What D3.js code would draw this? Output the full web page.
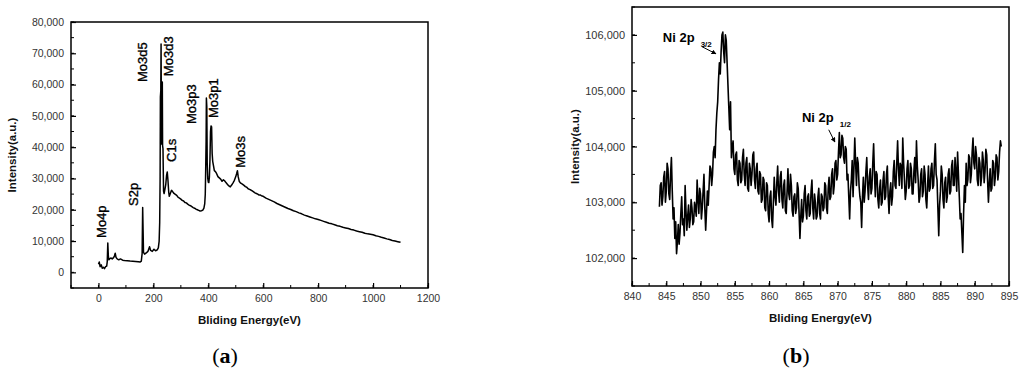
<!DOCTYPE html>
<html>
<head>
<meta charset="utf-8">
<script src="https://cdn.jsdelivr.net/npm/d3@7/dist/d3.min.js"></script>
<style>
  html, body { margin: 0; padding: 0; background: #fff; }
  svg { display: block; }
</style>
</head>
<body>
<svg id="chart" width="1024" height="375"></svg>
<script>
// ---------- Panel (a): XPS survey ----------
const surveyEnergy = [
  0, 3, 6, 10, 14, 18, 22, 26, 30, 32, 34, 36, 38, 42, 46, 50, 55, 58, 61, 64, 68, 74, 80, 88, 95,
  105, 115, 125, 135, 145, 152, 156, 159, 161, 162.5, 164, 168, 174, 180, 186, 190, 196, 202, 208, 214, 218,
  221, 223, 224.5, 225.5, 227, 228, 229.5, 231, 232.5, 233.5, 235, 237, 239, 242, 245, 248, 250.5, 253, 256,
  258, 262, 266, 270, 275, 280, 285, 290, 295, 300, 305, 310, 315, 320, 325, 330, 335, 340, 345, 350, 355,
  360, 365, 370, 375, 380, 384, 387, 389, 390.5, 392, 393, 394.5, 396, 398, 400, 402, 404, 406, 408, 410,
  412, 414, 416, 419, 422, 426, 430, 435, 440, 445, 450, 455, 460, 465, 470, 475, 480, 485, 490, 495, 500,
  503, 506, 509, 513, 518, 524, 530, 535, 540, 545, 550, 555, 560, 565, 570, 575, 580, 585, 590, 595, 600,
  610, 620, 630, 640, 650, 660, 670, 680, 690, 700, 710, 720, 730, 740, 750, 760, 770, 780, 790, 800, 810,
  820, 830, 840, 850, 860, 870, 880, 890, 900, 910, 920, 930, 940, 950, 960, 970, 980, 990, 1000, 1010,
  1020, 1030, 1040, 1050, 1060, 1070, 1080, 1090, 1100
];
const surveyCounts = [
  2600, 3300, 1800, 2400, 1300, 1600, 1200, 1800, 2000, 3400, 9400, 5200, 4000, 4400, 4600, 4300, 4700, 5200, 6100, 4800, 4300, 4000, 4300, 3900, 3800,
  3700, 3600, 3550, 3500, 3400, 3300, 3600, 6000, 20700, 13500, 6400, 5800, 6200, 6700, 8200, 7000, 6700, 7400, 6900, 7200, 7800,
  10000, 16000, 30000, 56000, 58000, 73000, 41000, 48000, 60800, 40500, 39500, 26000, 25200, 26500, 28000, 31000, 32100, 29500, 25500,
  24300, 25300, 26200, 25800, 25200, 24900, 24600, 24000, 23700, 23400, 23000, 22800, 22300, 22200, 21800, 21500, 21300, 21000, 20700, 20500, 20200,
  20000, 19800, 19600, 19700, 19900, 20500, 22000, 25000, 33000, 42000, 55700, 53000, 35000, 30000, 28800, 28700, 30500, 36000, 45000, 46800,
  46500, 38000, 35500, 34000, 32500, 32200, 31600, 30600, 30200, 29800, 29100, 29600, 29200, 28600, 28100, 27600, 27300, 27900, 28600, 29400, 30600,
  31500, 32500, 30500, 29000, 28500, 28200, 27800, 27400, 27200, 26700, 26500, 26300, 26000, 25700, 25400, 25200, 25000, 24700, 24700, 24400, 24300,
  23700, 23300, 22900, 22500, 22000, 21600, 21200, 20800, 20400, 20100, 19700, 19400, 19000, 18700, 18300, 18000, 17700, 17400, 17100, 16900, 16600,
  16300, 16000, 15700, 15500, 15200, 14900, 14700, 14400, 14200, 14000, 13700, 13500, 13200, 13000, 12800, 12500, 12300, 12200, 12000, 11700,
  11500, 11200, 11000, 10700, 10500, 10200, 10000, 9800, 9600
];
const surveyXTicks = [0, 200, 400, 600, 800, 1000, 1200];
const surveyYTicks = [0, 10000, 20000, 30000, 40000, 50000, 60000, 70000, 80000];
const surveyPeakNames = ["Mo4p", "S2p", "Mo3d5", "Mo3d3", "C1s", "Mo3p3", "Mo3p1", "Mo3s"];
const surveyPeakEnergy = [27, 144, 177, 271, 282, 355, 435, 533];
const surveyPeakCounts = [11000, 21200, 60800, 62700, 35300, 47400, 49300, 33400];

// ---------- Panel (b): Ni 2p ----------
const niEnergy = [
  844, 844.125, 844.25, 844.375, 844.5, 844.625, 844.75, 844.875, 845, 845.125, 845.25, 845.375, 845.5, 845.625, 845.75, 845.875,
  846, 846.125, 846.25, 846.375, 846.5, 846.625, 846.75, 846.875, 847, 847.125, 847.25, 847.375, 847.5, 847.625, 847.75, 847.875,
  848, 848.125, 848.25, 848.375, 848.5, 848.625, 848.75, 848.875, 849, 849.125, 849.25, 849.375, 849.5, 849.625, 849.75, 849.875,
  850, 850.125, 850.25, 850.375, 850.5, 850.625, 850.75, 850.875, 851, 851.125, 851.25, 851.375, 851.5, 851.625, 851.75, 851.875,
  852, 852.125, 852.25, 852.375, 852.5, 852.625, 852.75, 852.875, 853, 853.125, 853.25, 853.375, 853.5, 853.625, 853.75, 853.875,
  854, 854.125, 854.25, 854.375, 854.5, 854.625, 854.75, 854.875, 855, 855.125, 855.25, 855.375, 855.5, 855.625, 855.75, 855.875,
  856, 856.125, 856.25, 856.375, 856.5, 856.625, 856.75, 856.875, 857, 857.125, 857.25, 857.375, 857.5, 857.625, 857.75, 857.875,
  858, 858.125, 858.25, 858.375, 858.5, 858.625, 858.75, 858.875, 859, 859.125, 859.25, 859.375, 859.5, 859.625, 859.75, 859.875,
  860, 860.125, 860.25, 860.375, 860.5, 860.625, 860.75, 860.875, 861, 861.125, 861.25, 861.375, 861.5, 861.625, 861.75, 861.875,
  862, 862.125, 862.25, 862.375, 862.5, 862.625, 862.75, 862.875, 863, 863.125, 863.25, 863.375, 863.5, 863.625, 863.75, 863.875,
  864, 864.125, 864.25, 864.375, 864.5, 864.625, 864.75, 864.875, 865, 865.125, 865.25, 865.375, 865.5, 865.625, 865.75, 865.875,
  866, 866.125, 866.25, 866.375, 866.5, 866.625, 866.75, 866.875, 867, 867.125, 867.25, 867.375, 867.5, 867.625, 867.75, 867.875,
  868, 868.125, 868.25, 868.375, 868.5, 868.625, 868.75, 868.875, 869, 869.125, 869.25, 869.375, 869.5, 869.625, 869.75, 869.875,
  870, 870.125, 870.25, 870.375, 870.5, 870.625, 870.75, 870.875, 871, 871.125, 871.25, 871.375, 871.5, 871.625, 871.75, 871.875,
  872, 872.125, 872.25, 872.375, 872.5, 872.625, 872.75, 872.875, 873, 873.125, 873.25, 873.375, 873.5, 873.625, 873.75, 873.875,
  874, 874.125, 874.25, 874.375, 874.5, 874.625, 874.75, 874.875, 875, 875.125, 875.25, 875.375, 875.5, 875.625, 875.75, 875.875,
  876, 876.125, 876.25, 876.375, 876.5, 876.625, 876.75, 876.875, 877, 877.125, 877.25, 877.375, 877.5, 877.625, 877.75, 877.875,
  878, 878.125, 878.25, 878.375, 878.5, 878.625, 878.75, 878.875, 879, 879.125, 879.25, 879.375, 879.5, 879.625, 879.75, 879.875,
  880, 880.125, 880.25, 880.375, 880.5, 880.625, 880.75, 880.875, 881, 881.125, 881.25, 881.375, 881.5, 881.625, 881.75, 881.875,
  882, 882.125, 882.25, 882.375, 882.5, 882.625, 882.75, 882.875, 883, 883.125, 883.25, 883.375, 883.5, 883.625, 883.75, 883.875,
  884, 884.125, 884.25, 884.375, 884.5, 884.625, 884.75, 884.875, 885, 885.125, 885.25, 885.375, 885.5, 885.625, 885.75, 885.875,
  886, 886.125, 886.25, 886.375, 886.5, 886.625, 886.75, 886.875, 887, 887.125, 887.25, 887.375, 887.5, 887.625, 887.75, 887.875,
  888, 888.125, 888.25, 888.375, 888.5, 888.625, 888.75, 888.875, 889, 889.125, 889.25, 889.375, 889.5, 889.625, 889.75, 889.875,
  890, 890.125, 890.25, 890.375, 890.5, 890.625, 890.75, 890.875, 891, 891.125, 891.25, 891.375, 891.5, 891.625, 891.75, 891.875,
  892, 892.125, 892.25, 892.375, 892.5, 892.625, 892.75, 892.875, 893, 893.125, 893.25, 893.375, 893.5, 893.625, 893.75, 893.875
];
const niCounts = [
  102920, 103300, 103350, 102950, 103100, 103450, 103550, 103000, 103200, 103700, 103600, 103150, 103050, 103500, 103800, 103200,
  102700, 102900, 102350, 102650, 102080, 102300, 102600, 102250, 102450, 102800, 103100, 102600, 102700, 102400, 103300, 102850,
  102500, 102750, 102950, 102550, 102700, 103050, 102900, 102600, 102650, 103000, 102900, 102750, 103400, 103050, 102800, 103250,
  103150, 102700, 102900, 103200, 103500, 102900, 102500, 102850, 103200, 102950, 103300, 103650, 103600, 103300, 103500, 103900,
  104000, 103800, 104300, 104600, 104800, 105200, 105500, 105300, 105700, 106000, 106050, 105700, 105500, 106000, 105900, 105500,
  105100, 104700, 104300, 104800, 103800, 104000, 104100, 103600, 103500, 103850, 103900, 103400, 103300, 103750, 103700, 103350,
  103400, 103800, 103950, 103500, 103300, 103700, 103800, 103250, 103200, 103700, 103600, 103300, 103500, 103850, 103900, 103400,
  103250, 103600, 103700, 103200, 103150, 103550, 103500, 103000, 103050, 103450, 103400, 102900, 102850, 103350, 103300, 102800,
  102650, 103100, 103200, 102700, 102550, 103000, 103450, 103100, 102950, 103350, 103650, 103200, 103000, 103450, 103550, 103050,
  102900, 103300, 103400, 102850, 102800, 103200, 103600, 103150, 103050, 103500, 103300, 102850, 102750, 103100, 103150, 102800,
  102900, 103350, 103250, 102800, 102350, 102750, 103050, 102650, 102750, 103150, 103300, 102850, 102700, 103100, 103150, 102750,
  102800, 103200, 103400, 102900, 102700, 103150, 103000, 102700, 102750, 103100, 103250, 102800, 102700, 103150, 103100, 102850,
  102900, 103350, 103300, 102900, 102800, 103250, 103450, 103050, 103100, 103500, 103600, 103150, 103300, 103700, 103750, 103400,
  103500, 103900, 104250, 103800, 103850, 104200, 104150, 103800, 103700, 104000, 103950, 103400, 103500, 103100, 102700, 103200,
  103400, 103750, 103100, 103600, 104150, 103700, 103300, 103800, 103700, 103300, 103100, 103000, 102550, 103100, 103450, 103000,
  103200, 103550, 103800, 103300, 103050, 103450, 103600, 103150, 103250, 103700, 104050, 103500, 103100, 103550, 103500, 103050,
  102900, 103250, 103400, 102950, 103000, 103400, 103550, 103050, 103100, 103500, 103650, 103100, 102800, 103200, 103350, 102950,
  103100, 103550, 103750, 103300, 103250, 103700, 104100, 103600, 103300, 103700, 103650, 103250, 104150, 103700, 103400, 103050,
  103200, 103600, 103750, 103250, 103300, 103700, 103600, 103150, 103150, 103550, 103800, 103350, 104100, 103650, 103400, 103000,
  103100, 103500, 103600, 103100, 103200, 103650, 103500, 103050, 102900, 103300, 103650, 103200, 103250, 103600, 103700, 103250,
  103300, 103750, 104050, 103500, 103400, 102900, 102400, 102950, 103200, 103650, 103500, 103050, 102900, 103350, 103450, 103000,
  103100, 103500, 103600, 103150, 103200, 103650, 103750, 103300, 103300, 103800, 103550, 103200, 103900, 103500, 103100, 102700,
  102800, 102450, 102100, 102800, 103300, 103000, 103700, 103300, 103400, 103850, 103800, 103350, 103500, 103900, 104150, 103700,
  103600, 104000, 103850, 103400, 103300, 103800, 103700, 103300, 103450, 103900, 103750, 103350, 103550, 103950, 103850, 103400,
  103000, 103350, 103600, 103200, 103250, 103750, 103700, 103300, 103450, 103850, 103800, 103400, 103550, 103900, 104100, 104000
];
const niXTicks = [840, 845, 850, 855, 860, 865, 870, 875, 880, 885, 890, 895];
const niYTicks = [102000, 103000, 104000, 105000, 106000];
const niPeakSub = ["3/2", "1/2"];
const niLabelEnergy = [844.5, 864.8];
const niLabelCounts = [105870, 104440];
const niArrowFromEnergy = [850.2, 868.7];
const niArrowFromCounts = [105790, 104300];
const niArrowToEnergy = [852.25, 869.6];
const niArrowToCounts = [105660, 104080];

const SANS = '"Liberation Sans", Arial, sans-serif';
const SERIF = '"Liberation Serif", "Times New Roman", serif';
const svg = d3.select("#chart");
const fmt = d3.format(",");
const tickColor = "#333";

svg.append("defs").append("marker")
  .attr("id", "arrowHead").attr("viewBox", "0 0 10 10")
  .attr("refX", 9).attr("refY", 5)
  .attr("markerWidth", 5).attr("markerHeight", 5)
  .attr("orient", "auto")
  .append("path").attr("d", "M0,0 L10,5 L0,10 z").attr("fill", "#000");

function frame(g, x, y, xMinor, yMinor) {
  const [x0, x1] = x.range();
  const [y0, y1] = y.range();
  g.selectAll(".xminor").data(xMinor).join("line")
    .attr("x1", d => x(d)).attr("x2", d => x(d))
    .attr("y1", y0).attr("y2", y0 - 3).attr("stroke", "#000").attr("stroke-width", 1);
  g.selectAll(".yminor").data(yMinor).join("line")
    .attr("y1", d => y(d)).attr("y2", d => y(d))
    .attr("x1", x0).attr("x2", x0 + 3).attr("stroke", "#000").attr("stroke-width", 1);
  g.append("rect")
    .attr("x", x0).attr("y", y1).attr("width", x1 - x0).attr("height", y0 - y1)
    .attr("fill", "none").attr("stroke", "#000").attr("stroke-width", 1.5);
}

function drawPanel(opts) {
  const g = svg.append("g");
  const x = d3.scaleLinear().domain(opts.xDomain).range(opts.xRange);
  const y = d3.scaleLinear().domain(opts.yDomain).range(opts.yRange);
  frame(g, x, y, opts.xMinor, opts.yMinor);

  const xAxis = g.append("g").attr("transform", `translate(0,${opts.yRange[0]})`)
    .call(d3.axisTop(x).tickValues(opts.xTicks).tickSize(5).tickSizeOuter(0).tickFormat(d => d));
  xAxis.select(".domain").remove();
  xAxis.selectAll(".tick line").attr("stroke-width", 1.2);
  xAxis.selectAll(".tick text")
    .attr("y", 14).attr("dy", 0)
    .style("fill", tickColor).style("font-size", "10.5px").style("font-family", SANS);

  const yAxis = g.append("g").attr("transform", `translate(${opts.xRange[0]},0)`)
    .call(d3.axisRight(y).tickValues(opts.yTicks).tickSize(5).tickSizeOuter(0).tickFormat(fmt));
  yAxis.select(".domain").remove();
  yAxis.selectAll(".tick line").attr("stroke-width", 1.2);
  yAxis.selectAll(".tick text")
    .attr("x", -7).attr("text-anchor", "end")
    .style("fill", tickColor).style("font-size", opts.yTickFont).style("font-family", SANS);

  const data = opts.xs.map((d, i) => [d, opts.ys[i]]);
  g.append("path").datum(data)
    .attr("fill", "none").attr("stroke", "#000")
    .attr("stroke-width", opts.lineWidth).attr("stroke-linejoin", "round")
    .attr("d", d3.line().x(d => x(d[0])).y(d => y(d[1])));

  const cx = (opts.xRange[0] + opts.xRange[1]) / 2;
  const cy = (opts.yRange[0] + opts.yRange[1]) / 2;
  g.append("text").attr("x", cx).attr("y", opts.yRange[0] + 36)
    .attr("text-anchor", "middle")
    .style("font-family", SANS).style("font-size", "11.5px").style("font-weight", "bold")
    .style("fill", "#111").text("Bliding Energy(eV)");
  g.append("text")
    .attr("transform", `translate(${opts.yTitleX},${cy}) rotate(-90)`)
    .attr("text-anchor", "middle")
    .style("font-family", SANS).style("font-size", "11.5px").style("font-weight", "bold")
    .style("fill", "#111").text("Intensity(a.u.)");

  const lab = g.append("text").attr("x", opts.panelX).attr("y", 363)
    .attr("text-anchor", "middle")
    .style("font-family", SERIF).style("font-size", "22px").style("fill", "#000");
  lab.append("tspan").text("(");
  lab.append("tspan").style("font-weight", "bold").text(opts.panelLetter);
  lab.append("tspan").text(")");
  return { g, x, y };
}

// Panel (a)
const pa = drawPanel({
  xDomain: [-100, 1200], xRange: [71, 428],
  yDomain: [-5000, 80000], yRange: [288, 22],
  xTicks: surveyXTicks, yTicks: surveyYTicks,
  xMinor: d3.range(-100, 1201, 100), yMinor: d3.range(-5000, 80001, 5000),
  xs: surveyEnergy, ys: surveyCounts, lineWidth: 1.5,
  yTitleX: 16, yTickFont: "10.5px", panelX: 225, panelLetter: "a"
});
pa.g.selectAll(".peak").data(surveyPeakNames).join("text")
  .attr("transform", (d, i) => `translate(${pa.x(surveyPeakEnergy[i])},${pa.y(surveyPeakCounts[i])}) rotate(-90)`)
  .attr("text-anchor", "start")
  .style("font-family", SANS).style("font-size", "13px").style("fill", "#000")
  .style("stroke", "#000").style("stroke-width", "0.35px")
  .text(d => d);

// Panel (b)
const pb = drawPanel({
  xDomain: [840, 895], xRange: [632, 1009],
  yDomain: [101500, 106500], yRange: [286, 7],
  xTicks: niXTicks, yTicks: niYTicks,
  xMinor: d3.range(840, 895.1, 2.5), yMinor: d3.range(101500, 106501, 500),
  xs: niEnergy, ys: niCounts, lineWidth: 1.6,
  yTitleX: 579, yTickFont: "11px", panelX: 796, panelLetter: "b"
});
niPeakSub.forEach((s, i) => {
  const t = pb.g.append("text")
    .attr("x", pb.x(niLabelEnergy[i])).attr("y", pb.y(niLabelCounts[i]))
    .style("font-family", SANS).style("font-size", "13px").style("font-weight", "bold").style("fill", "#000");
  t.append("tspan").text("Ni 2p");
  t.append("tspan").attr("dx", 6).attr("dy", 5).style("font-size", "8px").text(s);
  pb.g.append("line")
    .attr("x1", pb.x(niArrowFromEnergy[i])).attr("y1", pb.y(niArrowFromCounts[i]))
    .attr("x2", pb.x(niArrowToEnergy[i])).attr("y2", pb.y(niArrowToCounts[i]))
    .attr("stroke", "#000").attr("stroke-width", 1).attr("marker-end", "url(#arrowHead)");
});
</script>
</body>
</html>
